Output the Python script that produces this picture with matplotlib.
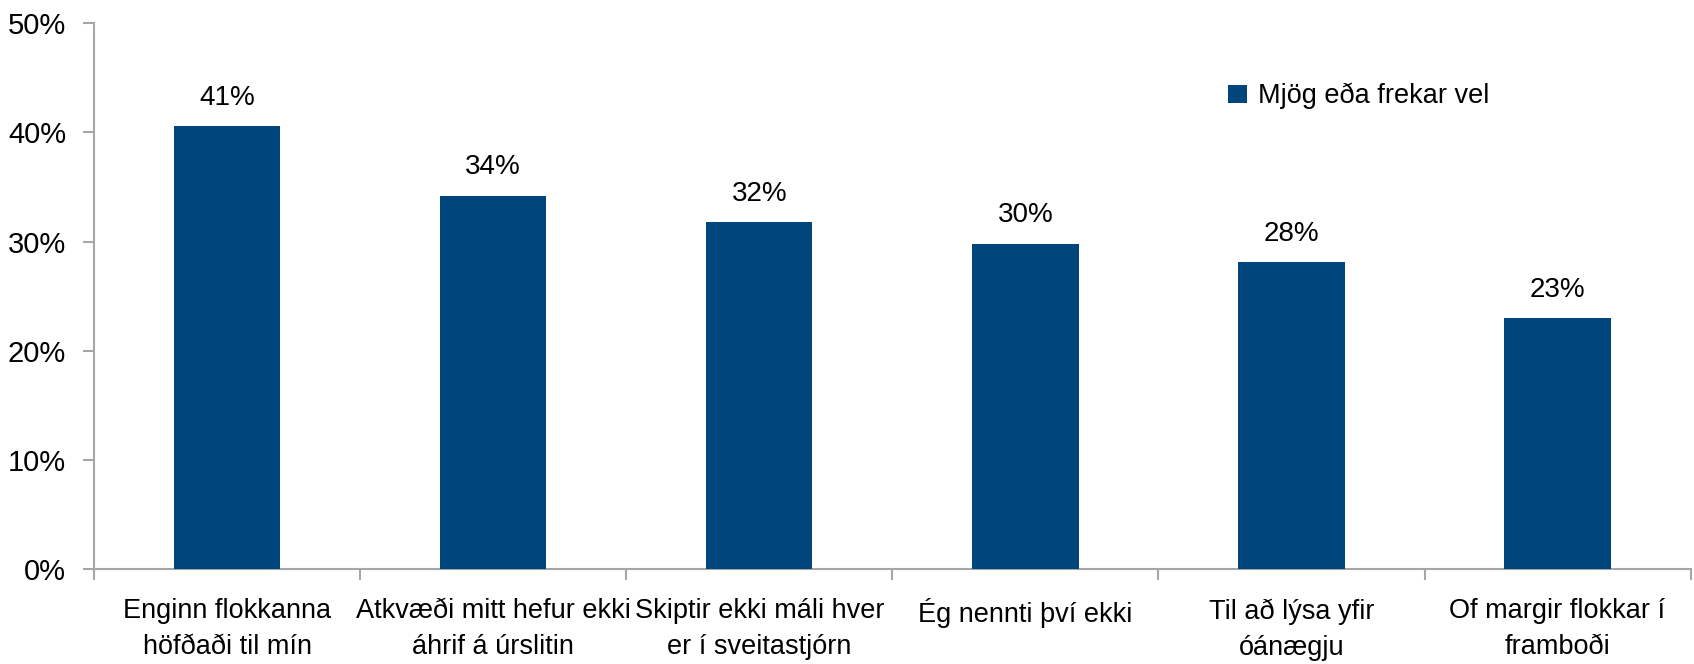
import matplotlib
matplotlib.use("Agg")
import matplotlib.pyplot as plt
import numpy as np
from matplotlib.ticker import FixedLocator, PercentFormatter

plt.rcParams['font.family'] = ['Liberation Sans Narrow', 'Liberation Sans', 'DejaVu Sans']
plt.rcParams['font.size'] = 21

categories = [
    "Enginn flokkanna\nhöfðaði til mín",
    "Atkvæði mitt hefur ekki\náhrif á úrslitin",
    "Skiptir ekki máli hver\ner í sveitastjórn",
    "Ég nennti því ekki",
    "Til að lýsa yfir\nóánægju",
    "Of margir flokkar í\nframboði",
]
values = [40.6, 34.2, 31.8, 29.8, 28.1, 23.0]
series_name = "Mjög eða frekar vel"

BAR_COLOR = "#00457C"
AXIS_COLOR = "#A6A6A6"

fig = plt.figure(figsize=(16.94, 6.64), dpi=100)
ax = fig.add_axes([0.0555, 0.143, 0.9425, 0.822])

x = np.arange(len(categories))
bars = ax.bar(x, values, width=0.4, color=BAR_COLOR, label=series_name, zorder=3)

for b, v in zip(bars, values):
    ax.annotate(f"{v:.0f}%", (b.get_x() + b.get_width() / 2, v),
                xytext=(0, 11), textcoords="offset points",
                ha="center", va="bottom", fontsize=20)

ax.set_xlim(-0.5, len(categories) - 0.5)
ax.set_ylim(0, 50)
ax.set_yticks([0, 10, 20, 30, 40, 50])
ax.yaxis.set_major_formatter(PercentFormatter(decimals=0))

# category separators as major ticks, labels on minor ticks at the centres
ax.xaxis.set_major_locator(FixedLocator(np.arange(-0.5, len(categories), 1.0)))
ax.xaxis.set_minor_locator(FixedLocator(x))
ax.set_xticklabels([], minor=False)
ax.set_xticklabels(categories, minor=True, fontsize=19.5, linespacing=1.5)
ax.tick_params(axis="x", which="major", length=8, width=1.5, color=AXIS_COLOR, direction="out")
ax.tick_params(axis="x", which="minor", length=0, pad=21)
ax.tick_params(axis="y", length=8, width=1.5, color=AXIS_COLOR, direction="out", pad=12)

for side in ["top", "right"]:
    ax.spines[side].set_visible(False)
for side in ["left", "bottom"]:
    ax.spines[side].set_color(AXIS_COLOR)
    ax.spines[side].set_linewidth(1.5)

ax.legend(loc="upper left", bbox_to_anchor=(0.695, 0.935), frameon=False,
          handlelength=0.7, handleheight=0.7, handletextpad=0.4, fontsize=19.5)

fig.savefig("out.png", dpi=100)
